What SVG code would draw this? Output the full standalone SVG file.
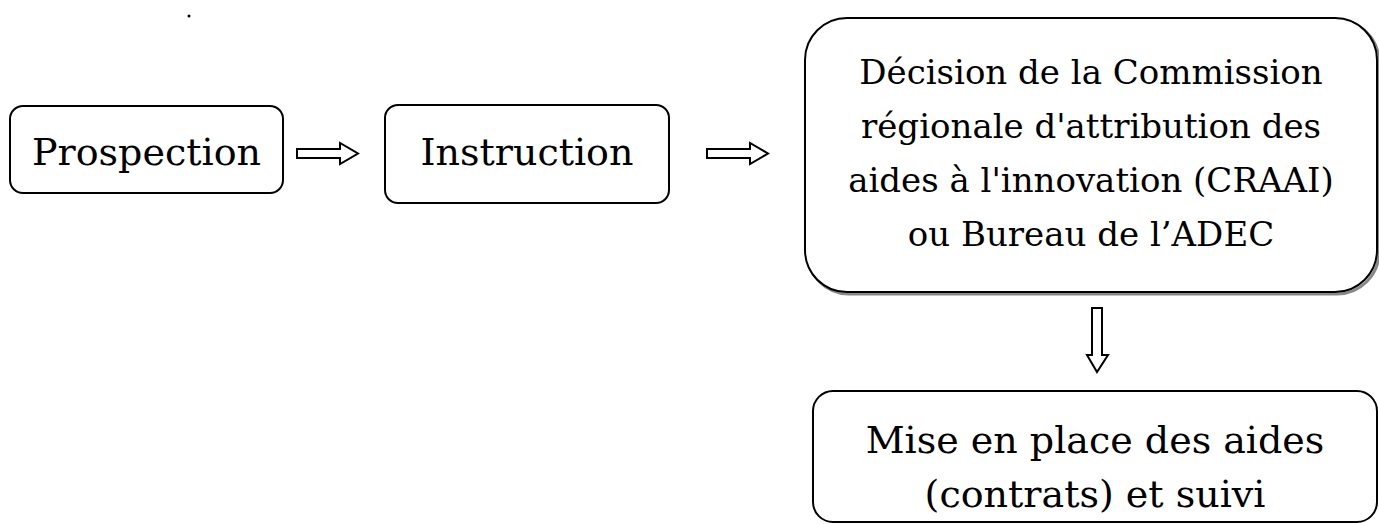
<svg xmlns="http://www.w3.org/2000/svg" width="1379" height="524" viewBox="0 0 1379 524">
<style>
.box{fill:#fff;stroke:#000;stroke-width:2}
.shadow{fill:none;stroke:#888;stroke-width:3}
.t{font-family:"DejaVu Serif","Liberation Serif",serif;fill:#000;text-anchor:middle}
.arr{fill:#fff;stroke:#000;stroke-width:2;stroke-linejoin:miter}
</style>
<rect width="1379" height="524" fill="#fff"/>
<circle cx="189" cy="16" r="1.5" fill="#000"/>
<g id="prospection">
<rect class="box" x="10" y="106" width="273" height="87" rx="13"/>
<text class="t" x="146.5" y="165" font-size="38">Prospection</text>
</g>
<g id="instruction">
<rect class="box" x="385" y="105" width="284" height="98" rx="13"/>
<text class="t" x="527" y="165" font-size="38">Instruction</text>
</g>
<g id="decision">
<rect class="shadow" x="807" y="20" width="572" height="274" rx="42"/>
<rect class="box" x="805" y="18" width="572" height="274" rx="42"/>
<text class="t" font-size="34" x="1091"><tspan x="1091" y="84">Décision de la Commission</tspan><tspan x="1091" y="138">régionale d'attribution des</tspan><tspan x="1091" y="192">aides à l'innovation (CRAAI)</tspan><tspan x="1091" y="246">ou Bureau de l’ADEC</tspan></text>
</g>
<g id="mise-en-place">
<rect class="box" x="813" y="391" width="564" height="131" rx="20"/>
<text class="t" font-size="38"><tspan x="1095" y="453">Mise en place des aides</tspan><tspan x="1095" y="507">(contrats) et suivi</tspan></text>
</g>
<g id="connectors">
<path class="arr" d="M297,149 H340 V143 L358,153.5 L340,164 V158 H297 Z"/>
<path class="arr" d="M707,149 H750 V143 L768,153.5 L750,164 V158 H707 Z"/>
<path class="arr" d="M1092,308 V355 H1087 L1097,372 L1108,355 H1102 V308 Z"/>
</g>
</svg>
